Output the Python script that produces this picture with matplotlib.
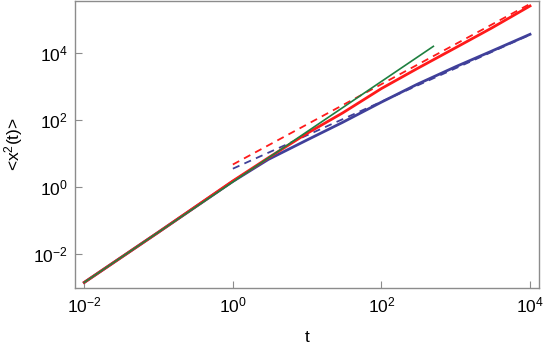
import numpy as np
import matplotlib
matplotlib.use('Agg')
import matplotlib.pyplot as plt
from matplotlib.ticker import FixedLocator, NullLocator

plt.rcParams['font.family'] = ['Liberation Sans', 'DejaVu Sans']
plt.rcParams['mathtext.fontset'] = 'custom'
plt.rcParams['mathtext.rm'] = 'Liberation Sans'
plt.rcParams['mathtext.it'] = 'Liberation Sans'

# values (log-log)
t_sim = [0.01, 0.1, 1, 3, 10, 30, 100, 300, 1000, 3000, 10000]
msd_red = [1.45e-3, 0.046, 1.55, 7.6, 41, 166, 890, 3470, 14800, 56000, 260000]
msd_blue = [1.45e-3, 0.046, 1.5, 6.8, 26, 87, 350, 1180, 4000, 11500, 37000]

t_green = [0.01, 0.1, 1, 10, 100, 500]
msd_green = [1.45e-3, 0.046, 1.45, 46, 1450, 16200]

t_fit = [1, 10, 100, 1000, 10000]
fit_red = [4.8, 76, 1200, 19000, 300000]
fit_blue = [3.6, 36, 360, 3600, 36000]

c_red = '#ff1a1a'
c_blue = '#40409a'
c_green = '#1e8040'
c_frame = '#8c8c8c'

fig = plt.figure(figsize=(5.45, 3.46), dpi=100)
ax = fig.add_axes([0.1376, 0.1688, 0.8514, 0.828])

ax.plot(t_fit, fit_blue, '--', color=c_blue, lw=1.3, dashes=(4, 3))
ax.plot(t_sim, msd_blue, color=c_blue, lw=2.0)
ax.plot(t_sim, msd_red, color=c_red, lw=2.0)
ax.plot(t_fit, fit_red, '--', color=c_red, lw=1.3, dashes=(4, 3))
ax.plot(t_green, msd_green, color=c_green, lw=1.2)

ax.set_xscale('log')
ax.set_yscale('log')
ax.set_xlim(10**-2.125, 10**4.121)
ax.set_ylim(10**-2.994, 10**5.56)

ax.xaxis.set_major_locator(FixedLocator([1e-2, 1, 1e2, 1e4]))
ax.yaxis.set_major_locator(FixedLocator([1e-2, 1, 1e2, 1e4]))
ax.xaxis.set_minor_locator(NullLocator())
ax.yaxis.set_minor_locator(NullLocator())
ax.set_xticklabels([r'$10^{-2}$', r'$10^{0}$', r'$10^{2}$', r'$10^{4}$'])
ax.set_yticklabels([r'$10^{-2}$', r'$10^{0}$', r'$10^{2}$', r'$10^{4}$'])
ax.tick_params(direction='in', length=5, color=c_frame, labelsize=12.5)
ax.tick_params(axis='x', pad=6)
ax.tick_params(axis='y', pad=5)

for s in ax.spines.values():
    s.set_color(c_frame)
    s.set_linewidth(1.0)

ax.set_xlabel('t', fontsize=12.5, labelpad=10)
ax.set_ylabel(r'<x$^2$(t)>', fontsize=12.5, labelpad=6)

fig.savefig('out.png', dpi=100)
